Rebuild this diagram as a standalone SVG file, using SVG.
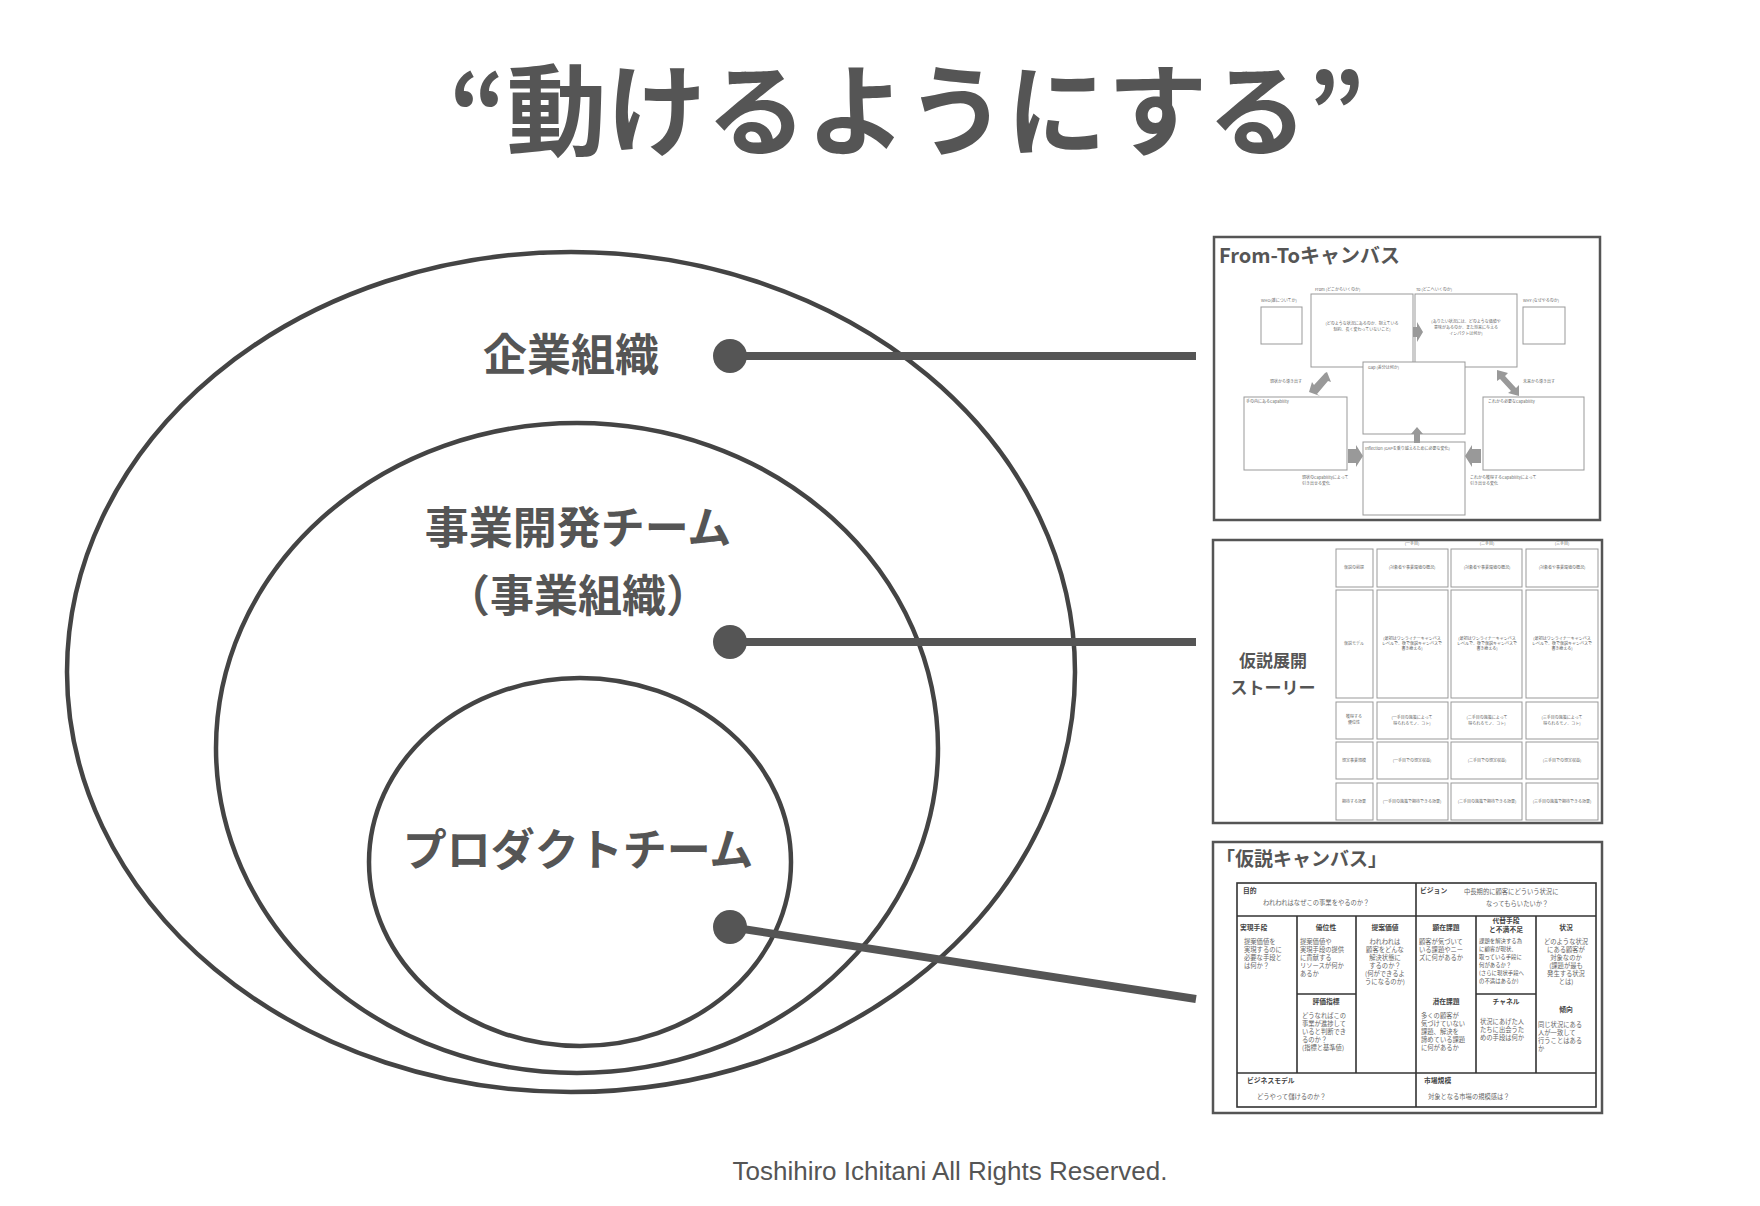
<svg xmlns="http://www.w3.org/2000/svg" width="1760" height="1206" viewBox="0 0 1760 1206">
<style>
text{font-family:"Noto Sans CJK JP","Noto Sans",sans-serif;fill:#555}
.b{font-weight:700}
.ell{fill:none;stroke:#444;stroke-width:4.5}
.lbl{font-size:44px;font-weight:700;text-anchor:middle;fill:#555}
.frame{fill:#fff;stroke:#555;stroke-width:2.5}
.sb{fill:#fff;stroke:#999;stroke-width:1}
.t4{font-size:4px;fill:#666}
.t4m{font-size:4px;fill:#666;text-anchor:middle}
.g{stroke:#333;stroke-width:1.6;fill:none}
.c{font-size:6.3px;fill:#666}
.cm{font-size:6.3px;fill:#666;text-anchor:middle}
.ch{font-size:6.8px;font-weight:700;fill:#444}
.chm{font-size:6.8px;font-weight:700;fill:#444;text-anchor:middle}
.conn{stroke:#555;stroke-width:8;fill:none}
.arr{fill:#999}
</style>
<rect width="1760" height="1206" fill="#fff"/>
<text x="907" y="148" font-size="100" class="b" text-anchor="middle">“動けるようにする”</text>

<g id="org"><ellipse class="ell" cx="571" cy="672" rx="504" ry="420"/><text class="lbl" x="571" y="371">企業組織</text></g>
<g id="bizdev"><ellipse class="ell" cx="577" cy="748" rx="361" ry="325"/><text class="lbl" x="578" y="544">事業開発チーム</text><text class="lbl" x="578" y="612">（事業組織）</text></g>
<g id="product"><ellipse class="ell" cx="580" cy="862" rx="211" ry="184"/><text class="lbl" x="578" y="866">プロダクトチーム</text></g>

<g id="connectors">
<line class="conn" x1="730" y1="356" x2="1196" y2="356"/>
<line class="conn" x1="730" y1="642" x2="1196" y2="642"/>
<line class="conn" x1="730" y1="927" x2="1196" y2="999"/>
<circle cx="730" cy="356" r="17" fill="#555"/>
<circle cx="730" cy="642" r="17" fill="#555"/>
<circle cx="730" cy="927" r="17" fill="#555"/>
</g>

<g id="fromto">
<rect class="frame" x="1214" y="237" width="386" height="283"/>
<text x="1219" y="263" font-size="20" class="b" fill="#444">From-Toキャンバス</text>
<rect class="sb" x="1261" y="307" width="41" height="37"/><text class="t4" x="1261" y="302">WHO(誰についてか)</text>
<rect class="sb" x="1311" y="294" width="102" height="73"/><text class="t4" x="1315" y="291">From (どこからいくのか)</text>
<text class="t4m" x="1362" y="325">(どのような状況にあるのか、抱えている</text><text class="t4m" x="1362" y="331">制約、長く変わっていないこと)</text>
<rect class="sb" x="1415" y="294" width="102" height="73"/><text class="t4" x="1416" y="291">To (どこへいくのか)</text>
<text class="t4m" x="1466" y="323">(ありたい状況には、どのような価値や</text><text class="t4m" x="1466" y="329">意味があるのか、また将来に与える</text><text class="t4m" x="1466" y="335">インパクトは何か)</text>
<rect class="sb" x="1523" y="307" width="42" height="37"/><text class="t4" x="1523" y="302">WHY (なぜやるのか)</text>
<rect class="sb" x="1244" y="397" width="103" height="73"/><text class="t4" x="1246" y="403">手の内にあるCapability</text>
<rect class="sb" x="1483" y="397" width="101" height="73"/><text class="t4" x="1488" y="403">これから必要なCapability</text>
<rect class="sb" x="1363" y="362" width="102" height="72"/><text class="t4" x="1368" y="369">Gap (差分は何か)</text>
<rect class="sb" x="1363" y="442" width="102" height="73"/><text class="t4" x="1365" y="450">Inflection (GAPを乗り越えるために必要な変化)</text>
<text class="t4" x="1270" y="383">現状から導き出す</text><text class="t4" x="1523" y="383">未来から導き出す</text>
<text class="t4" x="1302" y="479">現状のCapabilityによって</text><text class="t4" x="1302" y="485">引き出せる変化</text>
<text class="t4" x="1470" y="479">これから獲得するCapabilityによって</text><text class="t4" x="1470" y="485">引き出せる変化</text>
<polygon class="arr" points="1413,327 1417,327 1417,322 1423,332 1417,342 1417,337 1413,337"/>
<polygon class="arr" points="1327,372 1331,382 1328,381 1317,394 1320,396 1309,392 1312,382 1314,385 1325,373"/>
<polygon class="arr" points="1497,370 1508,373 1505,376 1516,388 1519,385 1519,396 1508,393 1511,391 1500,379 1497,381"/>
<polygon class="arr" points="1414,443 1414,434 1411,434 1417,427 1423,434 1420,434 1420,443"/>
<polygon class="arr" points="1348,449 1356,449 1356,445 1363,456 1356,467 1356,463 1348,463"/>
<polygon class="arr" points="1481,449 1472,449 1472,445 1465,456 1472,467 1472,463 1481,463"/>
</g>

<g id="story">
<rect class="frame" x="1213" y="540" width="389" height="283"/>
<text x="1273" y="667" font-size="17" class="b" text-anchor="middle" fill="#444">仮説展開</text>
<text x="1273" y="694" font-size="17" class="b" text-anchor="middle" fill="#444">ストーリー</text>
<text class="t4m" x="1412" y="545">(一手目)</text><text class="t4m" x="1487" y="545">(二手目)</text><text class="t4m" x="1562" y="545">(三手目)</text>
<g class="sb">
<rect x="1336" y="549" width="37" height="38"/><rect x="1377" y="549" width="71" height="38"/><rect x="1451" y="549" width="71" height="38"/><rect x="1526" y="549" width="72" height="38"/>
<rect x="1336" y="590" width="37" height="108"/><rect x="1377" y="590" width="71" height="108"/><rect x="1451" y="590" width="71" height="108"/><rect x="1526" y="590" width="72" height="108"/>
<rect x="1336" y="702" width="37" height="37"/><rect x="1377" y="702" width="71" height="37"/><rect x="1451" y="702" width="71" height="37"/><rect x="1526" y="702" width="72" height="37"/>
<rect x="1336" y="742" width="37" height="37"/><rect x="1377" y="742" width="71" height="37"/><rect x="1451" y="742" width="71" height="37"/><rect x="1526" y="742" width="72" height="37"/>
<rect x="1336" y="783" width="37" height="37"/><rect x="1377" y="783" width="71" height="37"/><rect x="1451" y="783" width="71" height="37"/><rect x="1526" y="783" width="72" height="37"/>
</g>
<text class="t4m" x="1354" y="569">仮説の前提</text><text class="t4m" x="1354" y="645">仮説モデル</text>
<text class="t4m" x="1354" y="718">獲得する</text><text class="t4m" x="1354" y="724">優位性</text>
<text class="t4m" x="1354" y="762">想定事業規模</text><text class="t4m" x="1354" y="803">期待する効果</text>
<text class="t4m" x="1412" y="569">(対象者や事業環境の概況)</text><text class="t4m" x="1487" y="569">(対象者や事業環境の概況)</text><text class="t4m" x="1562" y="569">(対象者や事業環境の概況)</text>
<g class="t4m">
<text x="1412" y="640">(最初はワンライナーキャンバス</text><text x="1412" y="645">レベルで、後で仮説キャンバスで</text><text x="1412" y="650">書き換える)</text>
<text x="1487" y="640">(最初はワンライナーキャンバス</text><text x="1487" y="645">レベルで、後で仮説キャンバスで</text><text x="1487" y="650">書き換える)</text>
<text x="1562" y="640">(最初はワンライナーキャンバス</text><text x="1562" y="645">レベルで、後で仮説キャンバスで</text><text x="1562" y="650">書き換える)</text>
</g>
<text class="t4m" x="1412" y="719">(一手目の施策によって</text><text class="t4m" x="1412" y="725">得られるモノ、コト)</text>
<text class="t4m" x="1487" y="719">(二手目の施策によって</text><text class="t4m" x="1487" y="725">得られるモノ、コト)</text>
<text class="t4m" x="1562" y="719">(三手目の施策によって</text><text class="t4m" x="1562" y="725">得られるモノ、コト)</text>
<text class="t4m" x="1412" y="762">(一手目での想定収益)</text><text class="t4m" x="1487" y="762">(二手目での想定収益)</text><text class="t4m" x="1562" y="762">(三手目での想定収益)</text>
<text class="t4m" x="1412" y="803">(一手目の施策で期待できる効果)</text><text class="t4m" x="1487" y="803">(二手目の施策で期待できる効果)</text><text class="t4m" x="1562" y="803">(三手目の施策で期待できる効果)</text>
</g>

<g id="canvas">
<rect class="frame" x="1213" y="842" width="389" height="271"/>
<text x="1216" y="866" font-size="19" class="b" fill="#444">「仮説キャンバス」</text>
<rect class="g" x="1237" y="883" width="359" height="224"/>
<line class="g" x1="1237" y1="916" x2="1596" y2="916"/>
<line class="g" x1="1237" y1="1073" x2="1596" y2="1073"/>
<line class="g" x1="1416" y1="883" x2="1416" y2="1107"/>
<line class="g" x1="1297" y1="916" x2="1297" y2="1073"/>
<line class="g" x1="1356" y1="916" x2="1356" y2="1073"/>
<line class="g" x1="1476" y1="916" x2="1476" y2="1073"/>
<line class="g" x1="1536" y1="916" x2="1536" y2="1073"/>
<line class="g" x1="1297" y1="994" x2="1356" y2="994"/>
<line class="g" x1="1476" y1="994" x2="1536" y2="994"/>
<text class="ch" x="1243" y="893">目的</text><text class="c" x="1263" y="905">われわれはなぜこの事業をやるのか？</text>
<text class="ch" x="1420" y="893">ビジョン</text><text class="c" x="1464" y="894">中長期的に顧客にどういう状況に</text><text class="c" x="1486" y="906">なってもらいたいか？</text>
<text class="ch" x="1240" y="930">実現手段</text>
<text class="c" x="1244" y="944">提案価値を</text><text class="c" x="1244" y="952">実現するのに</text><text class="c" x="1244" y="960">必要な手段と</text><text class="c" x="1244" y="968">は何か？</text>
<text class="chm" x="1326" y="930">優位性</text>
<text class="c" x="1300" y="944">提案価値や</text><text class="c" x="1300" y="952">実現手段の提供</text><text class="c" x="1300" y="960">に貢献する</text><text class="c" x="1300" y="968">リソースが何か</text><text class="c" x="1300" y="976">あるか</text>
<text class="chm" x="1385" y="930">提案価値</text>
<text class="cm" x="1385" y="944">われわれは</text><text class="cm" x="1385" y="952">顧客をどんな</text><text class="cm" x="1385" y="960">解決状態に</text><text class="cm" x="1385" y="968">するのか？</text><text class="cm" x="1385" y="976">(何ができるよ</text><text class="cm" x="1385" y="984">うになるのか)</text>
<text class="chm" x="1326" y="1004">評価指標</text>
<text class="c" x="1302" y="1018">どうなればこの</text><text class="c" x="1302" y="1026">事業が進捗して</text><text class="c" x="1302" y="1034">いると判断でき</text><text class="c" x="1302" y="1042">るのか？</text><text class="c" x="1302" y="1050">(指標と基準値)</text>
<text class="chm" x="1446" y="930">顕在課題</text>
<text class="c" x="1419" y="944">顧客が気づいて</text><text class="c" x="1419" y="952">いる課題やニー</text><text class="c" x="1419" y="960">ズに何があるか</text>
<text class="chm" x="1446" y="1004">潜在課題</text>
<text class="c" x="1421" y="1018">多くの顧客が</text><text class="c" x="1421" y="1026">気づけていない</text><text class="c" x="1421" y="1034">課題、解決を</text><text class="c" x="1421" y="1042">諦めている課題</text><text class="c" x="1421" y="1050">に何があるか</text>
<text class="chm" x="1506" y="923">代替手段</text><text class="chm" x="1506" y="932">と不満不足</text>
<g font-size="5.4" fill="#666"><text x="1479" y="943">課題を解決する為</text><text x="1479" y="951">に顧客が現状、</text><text x="1479" y="959">取っている手段に</text><text x="1479" y="967">何があるか？</text><text x="1479" y="975">(さらに現状手段へ</text><text x="1479" y="983">の不満はあるか)</text></g>
<text class="chm" x="1506" y="1004">チャネル</text>
<text class="c" x="1480" y="1024">状況にあげた人</text><text class="c" x="1480" y="1032">たちに出会うた</text><text class="c" x="1480" y="1040">めの手段は何か</text>
<text class="chm" x="1566" y="930">状況</text>
<text class="cm" x="1566" y="944">どのような状況</text><text class="cm" x="1566" y="952">にある顧客が</text><text class="cm" x="1566" y="960">対象なのか</text><text class="cm" x="1566" y="968">(課題が最も</text><text class="cm" x="1566" y="976">発生する状況</text><text class="cm" x="1566" y="984">とは)</text>
<text class="chm" x="1566" y="1012">傾向</text>
<text class="c" x="1538" y="1027">同じ状況にある</text><text class="c" x="1538" y="1035">人が一致して</text><text class="c" x="1538" y="1043">行うことはある</text><text class="c" x="1538" y="1051">か</text>
<text class="ch" x="1247" y="1083">ビジネスモデル</text><text class="c" x="1257" y="1099">どうやって儲けるのか？</text>
<text class="ch" x="1424" y="1083">市場規模</text><text class="c" x="1428" y="1099">対象となる市場の規模感は？</text>
</g>

<text x="950" y="1180" font-size="26" text-anchor="middle" fill="#666" style="font-family:'Liberation Sans',Arial,sans-serif">Toshihiro Ichitani All Rights Reserved.</text>
</svg>
